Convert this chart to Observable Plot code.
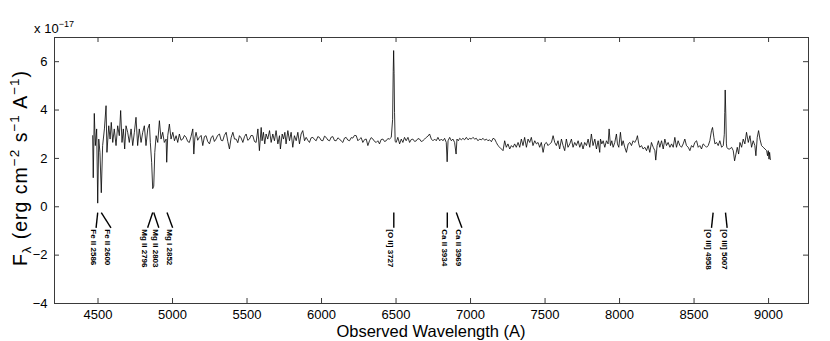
<!DOCTYPE html>
<html>
<head>
<meta charset="utf-8">
<script src="https://cdn.jsdelivr.net/npm/d3@7"></script>
<script src="https://cdn.jsdelivr.net/npm/@observablehq/plot@0.6"></script>
<style>
  html, body { margin: 0; padding: 0; background: #fff; }
  #chart svg { display: block; }
</style>
</head>
<body>
<div id="chart"></div>
<script>
// Spectrum (observed wavelength in Å, flux in units of 1e-17 erg cm^-2 s^-1 A^-1)
const specBlue = [
  [4464,2.94],[4468,1.20],[4475,3.86],[4482,2.53],[4491,3.22],[4498,0.15],[4505,2.80],[4513,2.25],[4522,0.58],[4531,2.53],
  [4543,3.22],[4554,4.18],[4560,2.25],[4572,3.35],[4581,2.80],[4589,3.49],[4599,2.66],[4609,3.22],[4621,2.53],[4632,3.35],
  [4643,2.94],[4652,3.98],[4661,2.66],[4670,3.22],[4679,2.39],[4688,3.35],[4699,3.08],[4710,2.66],[4722,3.22],[4733,2.53],
  [4744,3.08],[4755,3.70],[4766,2.53],[4777,3.22],[4789,2.66],[4800,3.08],[4811,3.35],[4822,2.53],[4834,3.22],[4845,3.42],
  [4851,2.66],[4860,1.84],[4867,0.75],[4874,0.85],[4881,2.25],[4890,2.94],[4901,2.66],[4912,3.56],[4923,2.80],[4934,3.08],
  [4945,2.66],[4957,2.80],[4961,1.84],[4968,2.94],[4979,3.42],[4990,2.80],[5002,3.08],[5013,2.73],[5024,2.94],[5035,2.66],
  [5046,3.01],[5057,2.75],[5069,2.80],[5080,2.95],[5091,2.87],[5102,2.70],[5113,2.66],[5124,2.90],[5136,3.22],[5143,2.18],
  [5150,2.85],[5158,3.08],[5169,2.75],[5180,2.87],[5192,2.95],[5203,2.53],[5214,2.90],[5225,2.94],[5236,2.70],[5248,2.60],
  [5259,2.85],[5270,2.94],[5281,2.70],[5292,2.80],[5303,2.95],[5315,3.01],[5326,2.75],[5337,2.73],[5348,2.95],[5360,3.08],
  [5371,2.70],[5382,2.39],[5393,2.85],[5405,3.08],[5416,2.80],[5427,2.80],[5438,2.65],[5449,2.94],[5460,2.85],[5472,2.66],
  [5483,2.90],[5494,3.01],[5505,2.75],[5516,2.80],[5527,2.95],[5539,2.94],[5550,2.70],[5561,2.66],[5573,3.22]
];
const specGreen = [
  [5583,2.32],[5595,3.28],[5601,2.73],[5610,3.08],[5619,2.60],[5628,3.01],[5639,2.80],[5651,3.15],[5662,2.66],[5673,3.01],
  [5684,2.73],[5695,3.15],[5707,2.60],[5718,2.94],[5724,2.39],[5736,3.01],[5745,2.80],[5754,3.08],[5762,2.60],[5774,3.15],
  [5785,2.73],[5796,3.08],[5807,2.46],[5818,2.94],[5830,2.73],[5841,3.08],[5852,2.60],[5863,3.01],[5874,3.15],[5886,2.73],
  [5897,2.87],[5908,2.75],[5919,2.66],[5930,2.85],[5942,2.87],[5953,2.78],[5964,2.73],[5975,2.90],[5986,2.87],[5997,2.75],
  [6009,2.73],[6020,2.92],[6031,2.87],[6042,2.76],[6054,2.73],[6065,2.88],[6076,2.90],[6087,2.74],[6098,2.73],[6110,2.85],
  [6121,2.80],[6132,2.72],[6143,2.66],[6154,2.84],[6165,2.87],[6176,2.76],[6188,2.73],[6199,2.86],[6210,2.84],[6221,2.95],
  [6233,2.94],[6244,2.73],[6255,2.80],[6266,2.86],[6277,2.66],[6289,2.78],[6300,2.80],[6311,2.53],[6322,2.73],[6333,2.86],
  [6345,2.80],[6356,2.70],[6367,2.66],[6378,2.73],[6389,2.60],[6400,2.78],[6412,2.80],[6423,2.70],[6434,2.73],[6445,2.82],
  [6456,2.80],[6468,2.87],[6477,3.60],[6481,5.60],[6484,6.46],[6487,5.50],[6490,3.90],[6494,2.70],[6501,2.66],[6512,2.87],
  [6524,2.60],[6535,2.80],[6546,2.66],[6557,2.87],[6568,2.73],[6580,2.87],[6591,2.66],[6602,2.78],[6613,2.80],[6625,2.70],
  [6636,2.73],[6647,2.82],[6658,2.80],[6669,2.70],[6680,2.73],[6692,2.80],[6703,2.87],[6714,2.92],[6725,3.01]
];
const specRed = [
  [6737,2.80],[6748,2.73],[6759,2.80],[6770,2.73],[6781,2.87],[6793,2.73],[6804,2.80],[6815,2.73],[6826,2.83],[6837,2.66],
  [6843,1.86],[6849,2.73],[6860,2.87],[6871,2.73],[6882,2.80],[6893,2.66],[6903,2.18],[6909,2.80],[6918,2.73],[6927,2.83],
  [6938,2.77],[6949,2.83],[6960,2.77],[6972,2.87],[6983,2.77],[6994,2.83],[7005,2.80],[7016,2.87],[7028,2.80],[7039,2.83],
  [7050,2.73],[7061,2.80],[7072,2.77],[7084,2.83],[7095,2.75],[7106,2.80],[7117,2.73],[7128,2.77],[7140,2.69],[7151,2.83],
  [7162,2.80],[7173,2.66],[7184,2.53],[7196,2.46],[7207,2.39],[7218,2.32],[7229,2.73],[7240,2.46],[7251,2.60],[7263,2.39],
  [7274,2.53],[7285,2.46],[7296,2.60],[7307,2.46],[7319,2.66],[7330,2.46],[7341,2.80],[7352,2.53],[7363,2.87],[7375,2.46],
  [7386,2.80],[7397,2.66],[7408,2.87],[7419,2.53],[7431,2.73],[7442,2.60],[7453,2.66],[7464,2.46],[7475,2.66],[7487,2.25],
  [7498,2.60],[7509,2.66],[7520,2.53],[7531,2.60],[7543,2.66],[7554,2.94],[7565,2.66],[7576,2.53],[7587,2.73],[7598,2.39],
  [7610,2.80],[7621,2.53],[7632,2.32],[7643,2.80],[7654,2.46],[7666,2.60],[7677,2.80],[7688,2.46],[7699,2.66],[7710,2.53],
  [7722,2.73],[7733,2.46],[7744,2.66],[7755,2.39],[7766,2.66],[7778,2.53],[7789,2.80],[7800,2.46],[7811,3.01],[7822,2.53],
  [7834,2.80],[7845,2.39],[7856,2.73],[7867,2.25]
];
const specIR = [
  [7872,2.80],[7881,2.60],[7890,2.73],[7901,2.46],[7912,2.73],[7923,2.60],[7930,3.22],[7939,2.53],[7948,2.73],[7957,2.46],
  [7968,2.66],[7979,3.01],[7986,2.60],[7995,2.46],[8006,3.08],[8015,2.53],[8024,2.73],[8035,2.46],[8046,2.25],[8058,2.60],
  [8069,2.66],[8080,2.53],[8091,2.73],[8102,2.66],[8114,2.80],[8120,2.94],[8129,2.60],[8136,2.46],[8147,2.53],[8158,2.39],
  [8170,2.46],[8181,2.32],[8192,2.53],[8203,2.25],[8214,2.66],[8226,2.46],[8237,2.32],[8243,1.93],[8252,2.53],[8261,2.73],
  [8270,2.46],[8282,2.73],[8293,2.39],[8304,2.80],[8315,2.53],[8326,2.66],[8338,2.46],[8349,2.60],[8360,2.46],[8371,2.87],
  [8382,2.46],[8393,2.73],[8405,2.53],[8416,2.46],[8427,2.60],[8438,2.80],[8449,2.53],[8461,2.46],[8472,2.32],[8483,2.53],
  [8494,2.46],[8505,2.66],[8517,2.73],[8528,2.46],[8539,2.53],[8550,2.39],[8561,2.60],[8573,2.53],[8584,2.46],[8595,2.53],
  [8606,2.73],[8617,3.15],[8624,3.28],[8633,2.87],[8640,2.60],[8651,2.66],[8662,2.53],[8673,2.73],[8685,2.46],[8696,2.53],
  [8703,3.00],[8706,3.90],[8709,4.83],[8713,3.84],[8717,2.60],[8720,2.46],[8729,2.39],[8740,2.39],[8752,2.46],[8763,2.32],
  [8772,1.90],[8781,2.18],[8790,2.46],[8799,2.18],[8808,2.66],[8819,2.46],[8830,2.80],[8841,2.60],[8852,3.08],[8864,2.66],
  [8875,2.94],[8886,2.46],[8897,2.73],[8908,2.53],[8915,2.11],[8924,2.87],[8933,3.15],[8942,2.80],[8953,2.53],[8964,2.46],
  [8976,2.39],[8987,2.32],[8993,2.11],[8998,2.32],[9003,1.97],[9007,2.25],[9012,1.95]
];

// Axis ticks
const xTicks = [4500, 5000, 5500, 6000, 6500, 7000, 7500, 8000, 8500, 9000];
const yTicks = [-4, -2, 0, 2, 4, 6];

// Line identifications
const lineNames   = ["Fe II 2586", "Fe II 2600", "Mg II 2796", "Mg II 2803", "Mg I 2852", "[O II] 3727", "Ca II 3934", "Ca II 3969", "[O III] 4958", "[O III] 5007"];
const lineObs     = [4498, 4522, 4867, 4874, 4963, 6485, 6844, 6904, 8628, 8711];
const lineLabelAt = [4487, 4587, 4833, 4908, 5001, 6485, 6844, 6942, 8617, 8722];
const tieTop = -0.24, tieBottom = -0.87, labelTop = -0.93;

const spectrum = [...specBlue, ...specGreen, ...specRed, ...specIR].map(([w, f]) => ({w, f}));
const lines = lineNames.map((name, i) => ({name, obs: lineObs[i], lab: lineLabelAt[i]}));

const W = 830, H = 341, mL = 54, mR = 22, mT = 37, mB = 38;
const fw = W - mL - mR, fh = H - mT - mB;
const tick = 5;
const axisColor = "#3a3a3a";
const font = "'Liberation Sans', Arial, Helvetica, sans-serif";

const chart = Plot.plot({
  width: W, height: H,
  marginLeft: mL, marginRight: mR, marginTop: mT, marginBottom: mB,
  style: {fontFamily: font, fontSize: "13px", color: "#000", background: "#fff", overflow: "visible"},
  x: {domain: [4208, 9268]},
  y: {domain: [-4, 7]},
  marks: [
    Plot.ruleX(xTicks, {x: d => d, insetTop: fh - tick, stroke: axisColor}),
    Plot.ruleX(xTicks, {x: d => d, insetBottom: fh - tick, stroke: axisColor}),
    Plot.ruleY(yTicks, {y: d => d, insetRight: fw - tick, stroke: axisColor}),
    Plot.ruleY(yTicks, {y: d => d, insetLeft: fw - tick, stroke: axisColor}),
    Plot.frame({stroke: axisColor}),
    Plot.line(spectrum, {x: "w", y: "f", stroke: "#000", strokeWidth: 0.8}),
    Plot.link(lines, {x1: "obs", x2: "lab", y1: () => tieTop, y2: () => tieBottom, stroke: "#000", strokeWidth: 1.4}),
    Plot.text(lines, {x: "lab", y: () => labelTop, text: "name", rotate: 90, textAnchor: "start", dx: -3,
      fontWeight: "bold", fontSize: 8, fill: "#000", letterSpacing: "0.3px"}),
    Plot.axisX(xTicks, {tickSize: 0, tickPadding: 6, label: null, tickFormat: d => String(d)}),
    Plot.axisY(yTicks, {tickSize: 0, tickPadding: 7, label: null})
  ]
});

document.getElementById("chart").appendChild(chart);

const svg = d3.select(chart);

// Exponent marker
const ex = svg.append("text").attr("x", 54).attr("y", 33)
  .style("font-family", font).style("font-size", "13px").attr("fill", "#000");
ex.append("tspan").text("x 10");
ex.append("tspan").attr("dy", -6).style("font-size", "9px").text("\u221217");

// Y label
const yl = svg.append("text").attr("transform", "translate(27,168) rotate(-90)")
  .attr("text-anchor", "middle").style("font-family", font).style("font-size", "19.5px")
  .style("letter-spacing", "1px").attr("fill", "#000");
yl.append("tspan").text("F");
yl.append("tspan").attr("dy", 4).style("font-size", "13px").text("\u03BB");
yl.append("tspan").attr("dy", -4).text(" (erg cm");
yl.append("tspan").attr("dy", -8).style("font-size", "13.5px").text("\u22122");
yl.append("tspan").attr("dy", 8).text(" s");
yl.append("tspan").attr("dy", -8).style("font-size", "13.5px").text("\u22121");
yl.append("tspan").attr("dy", 8).text(" A");
yl.append("tspan").attr("dy", -8).style("font-size", "13.5px").text("\u22121");
yl.append("tspan").attr("dy", 8).text(")");

// X label
svg.append("text").attr("x", 431).attr("y", 337).attr("text-anchor", "middle")
  .style("font-family", font).style("font-size", "16.5px").attr("fill", "#000")
  .text("Observed Wavelength (A)");
</script>
</body>
</html>
